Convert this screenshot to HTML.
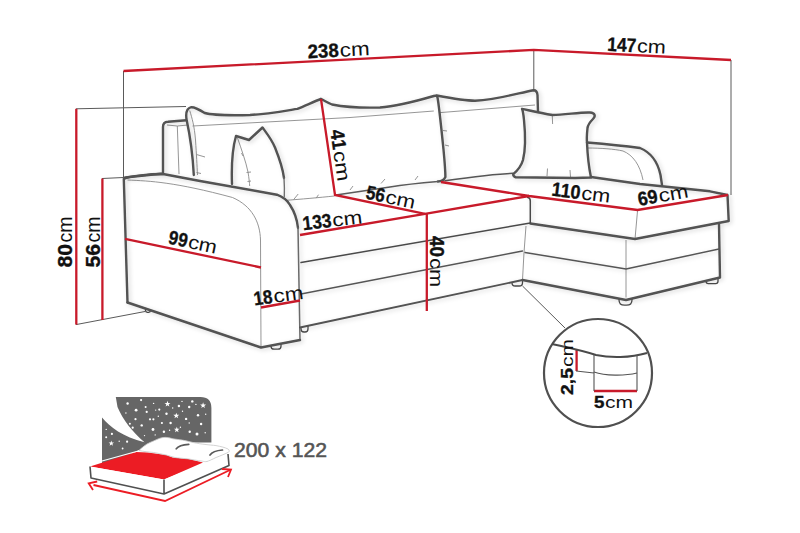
<!DOCTYPE html>
<html><head><meta charset="utf-8">
<style>
html,body{margin:0;padding:0;background:#fff;}
body{width:800px;height:533px;overflow:hidden;}
svg{display:block;}
text{font-family:"Liberation Sans",sans-serif;}
</style></head>
<body>
<svg width="800" height="533" viewBox="0 0 800 533">
<defs><filter id="sh" x="-5%" y="-5%" width="110%" height="110%"><feDropShadow dx="2" dy="1.5" stdDeviation="2.2" flood-color="#000" flood-opacity="0.16"/></filter></defs>
<!-- extension lines -->
<g stroke="#5a5a5a" stroke-width="1" fill="none">
  <path d="M123.5 71 V179"/>
  <path d="M533.8 50 V90"/>
  <path d="M731 60 V195"/>
  <path d="M76 108.8 L186 106.5"/>
  <path d="M102 178.5 L123.5 177.5"/>
  <path d="M76 324.6 L145 311.5"/>
  <path d="M522.5 286 L565 328"/>
</g>
<!-- thin inner lines -->
<g stroke="#8a8a8a" stroke-width="0.9" fill="none">
  <path d="M127.5 180 C150 181 175 182 232.5 197.5 C252 206 260 222 260.5 240 L261 347.5"/>
  <path d="M177.3 126 L179 174"/>
  <path d="M189.7 110.5 C192 118 194.4 126 195.5 140 C196.5 155 197 165 197.5 175"/>
  <path d="M237.5 138 C241 148 246 162 248 172 C249 178 249.5 183 249.7 186"/>
  <path d="M196.8 154.6 L205 157 M196.5 172.5 L201 173.5 M241.5 153 L243 156 M246.5 172.5 L251 172 M247.5 181.5 L251 181 M350 190 L353 186 M381 183.5 L385 179 M415 180 L418 176 M443 130.5 L447 131 M445 145 L449 146 M552.3 116 L552.6 124 M547.5 168.5 L547 176 M570 170 L570.5 177 M293.7 199.5 L298.2 194 M316.2 198.1 L318.5 194.7"/>
  <path d="M167 125 L177.3 126 L188 125"/>
  <path d="M192.5 126 L350 117.5 L433.8 111"/>
  <path d="M439 112.7 L535 105"/>
  <path d="M285 200.4 C300 199.3 320 197.5 334.5 196"/>
  <path d="M526 226 L524 252.5 L522.5 280"/>
  <path d="M637.5 211 L635 239"/>
  <path d="M626 240 L626 297.5"/>
  <path d="M587.5 148 C600 148 615 149 623 151 C633 155 640 165 643 180"/>
</g>
<!-- feet -->
<g fill="#fff" stroke="#4a4a4a" stroke-width="1.3">
<path d="M145.5 308.6 V310.51 Q145.5 312.3 147.29 312.3 H148.71 Q150.5 312.3 150.5 310.51 V310.2"/>
<path d="M271 345.6 V346.14 Q271 349.2 274.06 349.2 H277.94 Q281 349.2 281 346.14 V343.7"/>
<path d="M301 327.3 V329.02 Q301 332 303.98 332 H305.02 Q308 332 308 329.02 V325.8"/>
<path d="M512 282.2 V282.77 Q512 286 515.23 286 H519.27 Q522.5 286 522.5 282.77 V280"/>
<path d="M619 298.6 V299.68 Q619 305.2 624.52 305.2 H626.48 Q632 305.2 632 299.68 V298.6"/>
<path d="M706 280.9 V281.31 Q706 283.6 708.30 283.6 H715.70 Q718 283.6 718 281.31 V278"/>
</g>
<!-- dark outlines -->
<g stroke="#525252" stroke-width="2.4" fill="none" stroke-linejoin="round" stroke-linecap="round" filter="url(#sh)">
  <path d="M125 177.5 L163 173.5 L163 127 Q163 122 168 121.8 L186.5 120.3"/>
  <path d="M127.5 302.5 L123.8 178.8 C130 176 150 174 163 174 L200 181 L276.9 194.7 C282 196.5 287 200 290 205 C294 211 297 218 298 228"/>
  <path d="M298 228 L300 340" stroke="#6a6a6a" stroke-width="1.5"/>
  <path d="M300 340 L261 347.5 L127.5 302.5"/>
  <path d="M193.8 175 C193 160 191 140 186.6 119.8 C185.6 113.6 186 108.5 191.3 107.2 C195 107 200 110 204.7 113 C210 114.5 230 115.5 250 115 C270 114 290 110 297.4 108.9 C305 106 315 101 321 99"/>
  <path d="M321 99 C325 101 328 103 332 104.5 C345 107 365 108 380 107.5 C400 106 420 100 433.8 96 Q437 95 437.5 97.5 C439 105 441 125 443.5 149.5 C444.5 160 445.4 170 445.4 177 C444 180 441 181.5 438 181.5"/>
  <path d="M438 181.5 C420 183 405 184.5 390 187 C370 190 350 193 336 195" stroke="#5a5a5a" stroke-width="1.4"/>
  <path d="M436.7 95.5 C450 98 465 100.7 475 100.7 C495 100 515 94 533.4 90.2 Q537 90 537.5 95 L538 112"/>
  
  <path d="M445 180.8 C465 178 490 174.5 513 173.3" stroke="#555" stroke-width="1.6"/>
  <path d="M232 184 C231.5 170 232 150 236 136 L249 140 L262.5 127.5 C268 135 272 140 275 147.5 C280 160 283 170 284 178"/>
  <path d="M284 178 C284.5 186 284.5 192 284.3 196.5" stroke="#707070" stroke-width="1.4"/>
  <path d="M522 108.8 C530 110.5 540 113 552.5 115 C565 115 580 112 590 112.5 C595 113 596 116 593 119 C590 122 588 124 587.5 128 C587 133 586.5 138 587 142.5 C587.5 155 589 168 591 177.5 L575 178 L515.7 177.3 C514 176.5 513 175 513.3 174.1 C517 171 521 167 523 160 C525.5 150 525.5 135 524 120 C523.5 115 523 111 522 108.8 Z"/>
  <path d="M587 142.5 C605 144 625 146 640 148 C652 153 658 163 660.5 175 L662 185"/>
  <path d="M591 177 L640 184 L710 191.3 L727.5 195 L728.7 221 L635 239 L530.3 223.5"/>
  <path d="M719 224 L720 277.5 L626 300 L522.5 280"/>
  <path d="M300 327.5 L522.5 280" stroke-width="1.8"/>
  <path d="M301 262.5 L530.3 223 L530.3 201 Q530.3 197.5 527.7 197.4" stroke-width="1.5" stroke="#4a4a4a"/>
  <path d="M301 294 L522.5 251" stroke-width="1.3" stroke="#555"/>
  <path d="M525 252.5 L626 269 L719 249" stroke-width="1.3" stroke="#555"/>
</g>
<!-- red dimension lines -->
<g stroke="#c81a2a" stroke-width="2.3" fill="none">
  <path d="M123.5 71 L533.8 49.9 L731 60"/>
  <path d="M76.3 108.8 V324.6"/>
  <path d="M102.4 178.5 V320"/>
  <path d="M321 99 L335 195 L425 213.8"/>
  <path d="M300 235 L425 213.8 L529 196"/>
  <path d="M441 182 L529 196 L637.5 210 L728 195"/>
  <path d="M426.8 213.8 V311"/>
  <path d="M125 238.8 L261 267.5"/>
  <path d="M261 307.5 L300 300.5"/>
  <path d="M576.6 349 V371"/>
  <path d="M594 391 H637"/>
</g>
<!-- circle detail -->
<g fill="none">
  <circle cx="598" cy="373" r="54" stroke="#505050" stroke-width="2.2"/>
  <path d="M552 344 C565 347 580 350 596 355 C610 358 630 358 647 353" stroke="#4a4a4a" stroke-width="2"/>
  <path d="M594 355 V391 M637 355 V391 M576 371 L594 373" stroke="#555" stroke-width="1.1"/>
  <path d="M594 372 C605 376 625 376 637 373" stroke="#555" stroke-width="1.1"/>
</g>
<!-- labels -->
<g fill="#111">
<g transform="translate(308 58.2) rotate(-2.8)"><text x="0" y="0" font-size="19.5" font-weight="bold" stroke="#111" stroke-width="0.35" textLength="31" lengthAdjust="spacingAndGlyphs">238</text><text x="32.0" y="0" font-size="19.5" textLength="30" lengthAdjust="spacingAndGlyphs">cm</text></g>
<g transform="translate(607 50.8) rotate(2.9)"><text x="0" y="0" font-size="19.5" font-weight="bold" stroke="#111" stroke-width="0.35" textLength="29" lengthAdjust="spacingAndGlyphs">147</text><text x="29.8" y="0" font-size="19" textLength="28.8" lengthAdjust="spacingAndGlyphs">cm</text></g>
<g transform="translate(330.3 130.5) rotate(82)"><text x="0" y="0" font-size="19.5" font-weight="bold" stroke="#111" stroke-width="0.35" textLength="20" lengthAdjust="spacingAndGlyphs">41</text><text x="21.5" y="0" font-size="19" textLength="30.5" lengthAdjust="spacingAndGlyphs">cm</text></g>
<g transform="translate(365 198.5) rotate(12)"><text x="0" y="0" font-size="19.5" font-weight="bold" stroke="#111" stroke-width="0.35" textLength="19" lengthAdjust="spacingAndGlyphs">56</text><text x="20.0" y="0" font-size="19" textLength="30" lengthAdjust="spacingAndGlyphs">cm</text></g>
<g transform="translate(303.3 230.2) rotate(-6.5)"><text x="0" y="0" font-size="19.5" font-weight="bold" stroke="#111" stroke-width="0.35" textLength="29" lengthAdjust="spacingAndGlyphs">133</text><text x="30.0" y="0" font-size="19" textLength="30" lengthAdjust="spacingAndGlyphs">cm</text></g>
<g transform="translate(551 195.6) rotate(7)"><text x="0" y="0" font-size="19.5" font-weight="bold" stroke="#111" stroke-width="0.35" textLength="29" lengthAdjust="spacingAndGlyphs">110</text><text x="30.0" y="0" font-size="19" textLength="29" lengthAdjust="spacingAndGlyphs">cm</text></g>
<g transform="translate(639 206) rotate(-10)"><text x="0" y="0" font-size="19.5" font-weight="bold" stroke="#111" stroke-width="0.35" textLength="20" lengthAdjust="spacingAndGlyphs">69</text><text x="21.0" y="0" font-size="19" textLength="30" lengthAdjust="spacingAndGlyphs">cm</text></g>
<g transform="translate(430.2 236) rotate(90)"><text x="0" y="0" font-size="19.5" font-weight="bold" stroke="#111" stroke-width="0.35" textLength="21" lengthAdjust="spacingAndGlyphs">40</text><text x="22.0" y="0" font-size="19" textLength="29" lengthAdjust="spacingAndGlyphs">cm</text></g>
<g transform="translate(167.6 243.6) rotate(12)"><text x="0" y="0" font-size="19.5" font-weight="bold" stroke="#111" stroke-width="0.35" textLength="19" lengthAdjust="spacingAndGlyphs">99</text><text x="20.0" y="0" font-size="19" textLength="29" lengthAdjust="spacingAndGlyphs">cm</text></g>
<g transform="translate(254.4 305.4) rotate(-7.5)"><text x="0" y="0" font-size="19.5" font-weight="bold" stroke="#111" stroke-width="0.35" textLength="19" lengthAdjust="spacingAndGlyphs">18</text><text x="20.0" y="0" font-size="19" textLength="30" lengthAdjust="spacingAndGlyphs">cm</text></g>
<g transform="translate(71.8 267.5) rotate(-90)"><text x="0" y="0" font-size="20.5" font-weight="bold" stroke="#111" stroke-width="0.35" textLength="23.5" lengthAdjust="spacingAndGlyphs">80</text><text x="25.0" y="0" font-size="20.5" textLength="26" lengthAdjust="spacingAndGlyphs">cm</text></g>
<g transform="translate(100 267.5) rotate(-90)"><text x="0" y="0" font-size="20.5" font-weight="bold" stroke="#111" stroke-width="0.35" textLength="23.5" lengthAdjust="spacingAndGlyphs">56</text><text x="25.0" y="0" font-size="20.5" textLength="26" lengthAdjust="spacingAndGlyphs">cm</text></g>
<g transform="translate(573 395) rotate(-90)"><text x="0" y="0" font-size="17" font-weight="bold" stroke="#111" stroke-width="0.35" textLength="27" lengthAdjust="spacingAndGlyphs">2,5</text><text x="28.0" y="0" font-size="16" textLength="28" lengthAdjust="spacingAndGlyphs">cm</text></g>
<g transform="translate(594 407.7) rotate(0)"><text x="0" y="0" font-size="16" font-weight="bold" stroke="#111" stroke-width="0.35" textLength="10.4" lengthAdjust="spacingAndGlyphs">5</text><text x="10.9" y="0" font-size="16" textLength="28" lengthAdjust="spacingAndGlyphs">cm</text></g>
</g>
<text x="234" y="457" font-size="20.5" fill="#555" stroke="#555" stroke-width="0.55" textLength="93" lengthAdjust="spacingAndGlyphs">200 x 122</text>
<!-- bed icon -->
<g>
  <path d="M115.8 397 L200.4 397 Q211.4 397 211.4 408 L211.4 442.5 L190 442.5 L160 440 L102 468 L102 417.6 C109.6 427 123 437 144.5 442.3 C132 431.6 123 420 117.5 407 Z" fill="#666"/>
  <g fill="#fff"><circle cx="127.6" cy="403.5" r="1.2"/><circle cx="141.1" cy="400.1" r="1.1"/><circle cx="145.6" cy="406.9" r="1.0"/><circle cx="136.1" cy="410.2" r="1.4"/><circle cx="146.7" cy="411.9" r="1.1"/><circle cx="125.9" cy="413" r="0.7"/><circle cx="135.5" cy="419.2" r="1.1"/><circle cx="129.9" cy="423.7" r="1.0"/><circle cx="141.7" cy="425.4" r="1.2"/><circle cx="132.7" cy="427.7" r="1.1"/><circle cx="144.5" cy="435.6" r="0.7"/><circle cx="106.2" cy="429.4" r="0.7"/><circle cx="111.9" cy="433.9" r="1.1"/><circle cx="106.2" cy="437.2" r="1.0"/><polygon points="111.30,440.55 111.97,442.48 114.01,442.52 112.38,443.75 112.98,445.71 111.30,444.54 109.62,445.71 110.22,443.75 108.59,442.52 110.63,442.48"/><circle cx="119.2" cy="441.2" r="0.7"/><circle cx="127.1" cy="441.7" r="1.1"/><circle cx="122.6" cy="448.5" r="0.9"/><polygon points="167.50,400.75 168.24,402.88 170.50,402.93 168.70,404.29 169.35,406.45 167.50,405.16 165.65,406.45 166.30,404.29 164.50,402.93 166.76,402.88"/><circle cx="178.9" cy="406" r="1.2"/><circle cx="192.3" cy="401.4" r="1.2"/><polygon points="203.10,402.35 203.84,404.48 206.10,404.53 204.30,405.89 204.95,408.05 203.10,406.76 201.25,408.05 201.90,405.89 200.10,404.53 202.36,404.48"/><circle cx="189.2" cy="407" r="1.2"/><circle cx="159.3" cy="409.6" r="1.1"/><circle cx="155.7" cy="410.1" r="0.7"/><circle cx="153.6" cy="403.4" r="0.7"/><circle cx="182" cy="401.4" r="0.7"/><circle cx="172.7" cy="408" r="0.7"/><circle cx="195.9" cy="404.4" r="0.7"/><circle cx="166.5" cy="413.7" r="1.2"/><polygon points="176.30,412.65 177.04,414.78 179.30,414.83 177.50,416.19 178.15,418.35 176.30,417.06 174.45,418.35 175.10,416.19 173.30,414.83 175.56,414.78"/><circle cx="198" cy="415.3" r="1.2"/><circle cx="205.7" cy="414.3" r="0.7"/><circle cx="158.3" cy="416.3" r="0.7"/><circle cx="153.4" cy="419.3" r="1.1"/><circle cx="150" cy="419.3" r="1.1"/><circle cx="186.1" cy="418.9" r="1.2"/><circle cx="182.5" cy="411.2" r="0.7"/><circle cx="161.9" cy="423" r="1.1"/><circle cx="170.6" cy="423" r="1.2"/><circle cx="189.2" cy="423" r="0.7"/><circle cx="201.1" cy="424" r="1.2"/><circle cx="153" cy="429.5" r="1.4"/><circle cx="163.9" cy="431.8" r="1.2"/><circle cx="169.6" cy="430.2" r="0.7"/><polygon points="176.80,426.70 177.51,428.73 179.65,428.77 177.94,430.07 178.56,432.13 176.80,430.90 175.04,432.13 175.66,430.07 173.95,428.77 176.09,428.73"/><circle cx="180.4" cy="427.2" r="0.7"/><circle cx="189.7" cy="431.8" r="1.2"/><circle cx="197" cy="433.9" r="1.5"/><circle cx="205.2" cy="432.8" r="0.7"/><circle cx="155.2" cy="434.9" r="0.7"/></g>
  <path d="M90 466.5 L136 452 L147.5 452.5 L166.25 455 L172.5 457.5 L187.5 458.75 L203 462.5 L164 479.5 Z" fill="#ec1c24"/>
  <path d="M102 461 L140 450.5" stroke="#fff" stroke-width="1.2"/>
  <path d="M139 450.5 C141 448.5 146 444 150 442.5 C155 440.5 159 438 163 437.5 C167 437 170 438 173 438.8 C178 439.5 182 440 185 440.6 C188 441 190 442 193 442.5 C198 443.5 201 444 205 444.4 C209 445 213 445.2 216 445.6 C221 446.5 225 447.5 228 449 C229.5 450 229.5 451.5 228.5 452.2 C226 453.5 220 456 216 457.5 C212 459.5 209 461 207 461.5 C205 461.8 204 461.5 202.5 461.2 C197 460.5 192 459.5 187.5 458.8 C182 458.3 178 458 175 457.5 C172 457 169 455.5 166.25 455 C161 454 157 453 153.75 452.5 C149 452 143 451.5 139 450.5 Z" fill="#fff" stroke="#c8c8c8" stroke-width="0.8"/>
  <path d="M176.25 448.75 C178 446.5 181 445 188.75 444.4" stroke="#5a5a5a" stroke-width="1.7" fill="none" stroke-linecap="round"/>
  <path d="M210 455 C212 452 215 450.6 222.5 450" stroke="#5a5a5a" stroke-width="1.7" fill="none" stroke-linecap="round"/>
  <path d="M90 466.5 L164 479.5 L164 494 L91 478 Z" fill="#fff"/>
  <path d="M164 479.5 L228 454 L229 465.5 L164 494 Z" fill="#fff"/>
  <path d="M90 466.5 L91 478 L164 494 L229 465.5 L228 454 M164 479.5 V494" stroke="#505050" stroke-width="1.6" fill="none" stroke-linejoin="round"/>
  <path d="M93.5 485 L165 501 L230 470" stroke="#ec1c24" stroke-width="1.8" fill="none"/>
  <path d="M97.2 481.5 L88.7 483.3 L93 490" stroke="#ec1c24" stroke-width="1.8" fill="none"/>
  <path d="M222 469 L231 469.5 L228 477" stroke="#ec1c24" stroke-width="1.8" fill="none"/>
</g>
</svg>
</body></html>
